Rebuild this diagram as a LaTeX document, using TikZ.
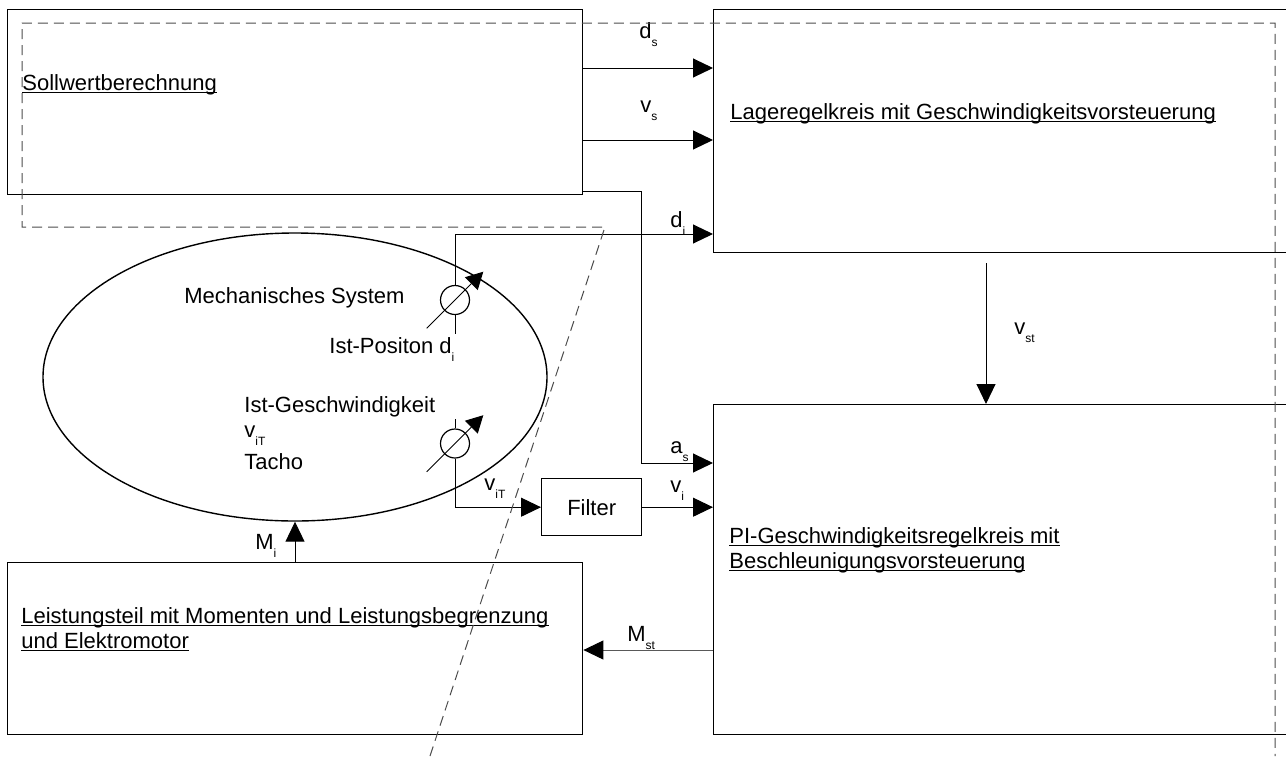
\documentclass[tikz,border=0pt]{standalone}
\usepackage{fontspec}
\setmainfont{Liberation Sans}
\usepackage{tikz}
\usetikzlibrary{arrows.meta,calc,positioning,shapes.geometric}
\newcommand{\lsub}[1]{\raisebox{-4pt}{\fontsize{6}{6}\selectfont #1}}
\newcommand{\unl}[1]{\setbox0\hbox{#1}\rlap{\rule[-1.3pt]{\wd0}{0.5pt}}\box0}

\begin{document}
\begin{tikzpicture}[x=0.5pt,y=-0.5pt,
  blk/.style={draw,line width=0.7pt,anchor=north west,inner sep=0},
  sig/.style={-{Triangle[length=10pt,width=9.5pt,color=black]},line width=0.5pt},
  sens/.style={-{Triangle[length=8.5pt,width=9pt]},line width=0.5pt},
  dsh/.style={dash pattern=on 5pt off 3pt,gray!60!black,line width=0.5pt},
  txt/.style={inner sep=0,anchor=base west,font=\fontsize{11}{13}\selectfont}]
  \useasboundingbox (0,0) rectangle (1286,756);
  \clip (0,0) rectangle (1286,756);
  \node[blk,minimum width=287.5pt,minimum height=92.5pt] (soll) at (7,9) {};
  \node[blk,minimum width=310pt,minimum height=121.5pt] (lage) at (713,9) {};
  \node[blk,minimum width=310pt,minimum height=165pt] (pi) at (713,404) {};
  \node[blk,minimum width=287.5pt,minimum height=86pt] (leist) at (7,562) {};
  \node[blk,minimum width=50pt,minimum height=28.5pt,font=\fontsize{11}{13}\selectfont] (filter) at (541,478) {Filter};
  \node[draw,ellipse,line width=0.7pt,inner sep=0,minimum width=252pt,minimum height=144pt] (mech) at (295,377) {};
  \node[draw,circle,line width=0.6pt,inner sep=0,minimum size=14.5pt] (sens1) at (455,300) {};
  \node[draw,circle,line width=0.6pt,inner sep=0,minimum size=14.5pt] (sens2) at (455,443.5) {};

  \node[txt] (sollT) at (22,90) {\unl{Sollwertberechnung}};
  \node[txt] (lageT) at (730,119) {\unl{Lageregelkreis mit Geschwindigkeitsvorsteuerung}};
  \node[txt] (piT1) at (729,543) {\unl{PI-Geschwindigkeitsregelkreis mit}};
  \node[txt] (piT2) at (729,568) {\unl{Beschleunigungsvorsteuerung}};
  \node[txt] (leistT1) at (21,623) {\unl{Leistungsteil mit Momenten und Leistungsbegrenzung}};
  \node[txt] (leistT2) at (21,648) {\unl{und Elektromotor}};
  \node[txt] (mechT) at (184,303) {Mechanisches System};
  \node[txt] (posT) at (329,353) {Ist-Positon d\lsub{i}};
  \node[txt] (velT1) at (244,412) {Ist-Geschwindigkeit};
  \node[txt] (velT2) at (244,437) {v\lsub{iT}};
  \node[txt] (velT3) at (244,469) {Tacho};

  \node[txt] (ds) at (639,38) {d\lsub{s}};
  \node[txt] (vs) at (640,112) {v\lsub{s}};
  \node[txt] (di) at (670,227) {d\lsub{i}};
  \node[txt] (as) at (670,453) {a\lsub{s}};
  \node[txt] (vi) at (670,492) {v\lsub{i}};
  \node[txt] (viT) at (484,490) {v\lsub{iT}};
  \node[txt] (vst) at (1014,334) {v\lsub{st}};
  \node[txt] (Mst) at (627,641) {M\lsub{st}};
  \node[txt] (Mi) at (255,549) {M\lsub{i}};

  \draw[sig] (soll.east |- 0,68) -- (lage.west |- 0,68);
  \draw[sig] (soll.east |- 0,140) -- (lage.west |- 0,140);
  \draw[sig] (soll.east |- 0,191) -| (641,463) -- (pi.west |- 0,463);
  \draw[sig] (sens1.north) |- (lage.west |- 0,234);
  \draw[line width=0.5pt] (sens1.south) -- ++(0,19);
  \draw[line width=0.5pt] (sens2.north) -- ++(0,-9);
  \draw[sig] (sens2.south) |- (filter.west);
  \draw[sig] (filter.east) -- (pi.west |- filter.east);
  \coordinate (vst0) at (986,263);
  \draw[sig] (vst0) -- (vst0 |- pi.north);
  \draw[sig,gray!70!black] (pi.west |- 0,650) -- (leist.east |- 0,650);
  \draw[sig] (leist.north -| mech.south) -- (mech.south);
  \draw[sens] ([shift={(-28.3,28.3)}]sens1.center) -- ([shift={(28.3,-28.3)}]sens1.center);
  \draw[sens] ([shift={(-28.3,28.3)}]sens2.center) -- ([shift={(28.3,-28.3)}]sens2.center);

  \draw[dsh] (430,756) -- (605,227) -- (22,227) -- (22,23) -- (1275,23) -- (1275,756);
\end{tikzpicture}
\end{document}
